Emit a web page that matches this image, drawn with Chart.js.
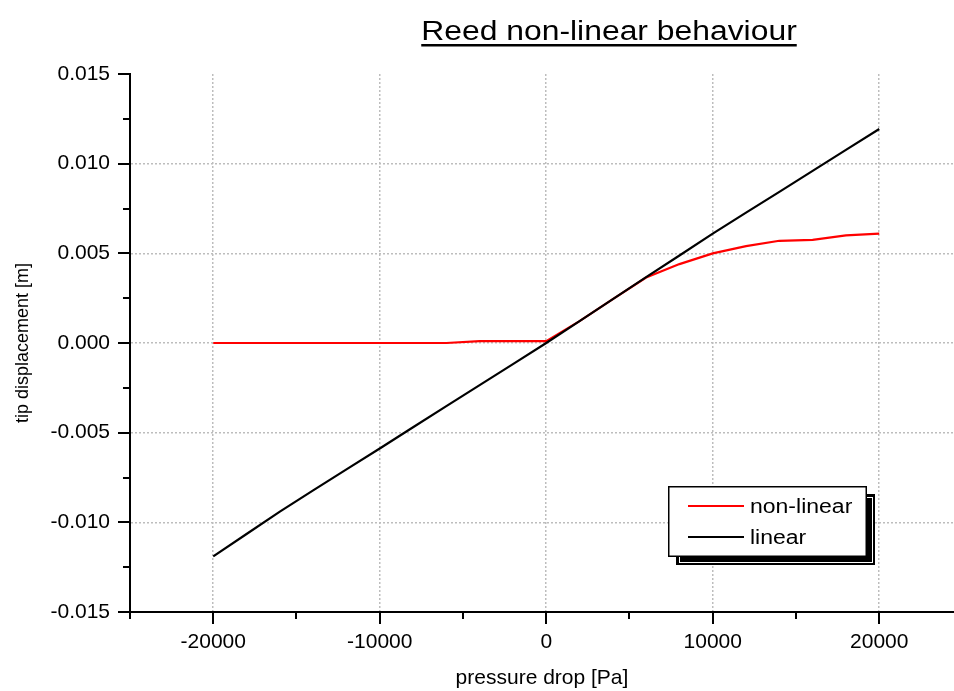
<!DOCTYPE html>
<html lang="en">
<head>
<meta charset="UTF-8">
<title>Reed non-linear behaviour</title>
<script src="https://cdn.jsdelivr.net/npm/chart.js"></script>
<style>
  html, body { margin: 0; padding: 0; background: #fff; }
  #wrap { width: 954px; height: 691px; }
</style>
</head>
<body>
<div id="wrap"><canvas id="reedChart" width="954" height="691"></canvas></div>
<script>
  // pressure drop [Pa]
  const pressure = [-20000, -18000, -16000, -14000, -12000, -10000, -8000, -6000, -4000, -2000,
                    0, 2000, 4000, 6000, 8000, 10000, 12000, 14000, 16000, 18000, 20000];
  // tip displacement [m]
  const nonLinear = [0, 0, 0, 0, 0, 0, 0, 0, 0.0001, 0.0001,
                     0.0001, 0.00122, 0.00245, 0.00365, 0.0044, 0.0050, 0.0054, 0.0057, 0.00575, 0.0060, 0.0061];
  const linear = [-0.0119, -0.01065, -0.0094, -0.00822, -0.00705, -0.00588, -0.0047, -0.00352, -0.00235, -0.00118,
                  0.0000, 0.00122, 0.00245, 0.00367, 0.00488, 0.0061, 0.00727, 0.00843, 0.0096, 0.01077, 0.01193];

  const xTicks = [-25000, -20000, -15000, -10000, -5000, 0, 5000, 10000, 15000, 20000];
  const yTicks = [-0.015, -0.0125, -0.01, -0.0075, -0.005, -0.0025, 0, 0.0025, 0.005, 0.0075, 0.01, 0.0125, 0.015];

  const titleText = 'Reed non-linear behaviour';
  const seriesNames = ['non-linear', 'linear'];
  const seriesColors = ['#ff0000', '#000000'];

  const FONT = '"Liberation Sans", Arial, sans-serif';
  const isMajorX = v => v % 10000 === 0;
  const isMajorY = v => Math.round(v * 10000) % 50 === 0;

  Chart.defaults.font.family = FONT;
  Chart.defaults.color = '#000';

  // tick marks: long on labelled values, short between
  const tickMarks = {
    id: 'tickMarks',
    afterDraw(chart) {
      const { ctx, scales: { x, y } } = chart;
      ctx.save();
      ctx.strokeStyle = '#000';
      ctx.lineWidth = 2;
      x.ticks.forEach(t => {
        const px = Math.round(x.getPixelForValue(t.value));
        const len = isMajorX(t.value) ? 12 : 7;
        ctx.beginPath();
        ctx.moveTo(px, x.top);
        ctx.lineTo(px, x.top + len);
        ctx.stroke();
      });
      y.ticks.forEach(t => {
        const py = Math.round(y.getPixelForValue(t.value));
        const len = isMajorY(t.value) ? 12 : 7;
        ctx.beginPath();
        ctx.moveTo(y.right, py);
        ctx.lineTo(y.right - len, py);
        ctx.stroke();
      });
      ctx.restore();
    }
  };

  // underlined title, slightly wide like the original
  const underlinedTitle = {
    id: 'underlinedTitle',
    afterDraw(chart) {
      const ctx = chart.ctx;
      ctx.save();
      ctx.font = '27px ' + FONT;
      const w = ctx.measureText(titleText).width;
      ctx.translate(609, 40);
      ctx.scale(1.18, 1);
      ctx.fillStyle = '#000';
      ctx.textAlign = 'center';
      ctx.textBaseline = 'alphabetic';
      ctx.fillText(titleText, 0, 0);
      ctx.fillRect(-w / 2, 4, w, 2.5);
      ctx.restore();
    }
  };

  // boxed legend with drop shadow
  const shadowLegend = {
    id: 'shadowLegend',
    afterDraw(chart) {
      const ctx = chart.ctx;
      const bx = 668, by = 486, bw = 199, bh = 71;
      ctx.save();
      ctx.fillStyle = '#000';
      ctx.fillRect(bx + 8, by + 8, bw, bh);
      ctx.strokeStyle = '#fff';
      ctx.lineWidth = 1;
      ctx.strokeRect(bx + 11.5, by + 11.5, bw - 6, bh - 6);
      ctx.fillStyle = '#fff';
      ctx.fillRect(bx, by, bw, bh);
      ctx.strokeStyle = '#000';
      ctx.lineWidth = 1.5;
      ctx.strokeRect(bx + 0.75, by + 0.75, bw - 1.5, bh - 1.5);

      ctx.font = '20px ' + FONT;
      ctx.textBaseline = 'middle';
      ctx.textAlign = 'left';
      seriesNames.forEach((name, i) => {
        const ly = by + 20 + i * 31;
        ctx.strokeStyle = seriesColors[i];
        ctx.lineWidth = 2;
        ctx.beginPath();
        ctx.moveTo(bx + 20, ly);
        ctx.lineTo(bx + 76, ly);
        ctx.stroke();
        ctx.save();
        ctx.translate(bx + 82, ly + 1);
        ctx.scale(1.15, 1);
        ctx.fillStyle = '#000';
        ctx.fillText(name, 0, 0);
        ctx.restore();
      });
      ctx.restore();
    }
  };

  const gridColor = '#bdbdbd';

  new Chart(document.getElementById('reedChart'), {
    type: 'line',
    data: {
      datasets: [
        {
          label: seriesNames[0],
          data: pressure.map((p, i) => ({ x: p, y: nonLinear[i] })),
          borderColor: seriesColors[0],
          borderWidth: 2.2,
          pointRadius: 0,
          tension: 0,
          fill: false,
          order: 1
        },
        {
          label: seriesNames[1],
          data: pressure.map((p, i) => ({ x: p, y: linear[i] })),
          borderColor: seriesColors[1],
          borderWidth: 2.2,
          pointRadius: 0,
          tension: 0,
          fill: false,
          order: 0
        }
      ]
    },
    options: {
      responsive: false,
      animation: false,
      events: [],
      layout: { padding: { top: 74, right: 0, bottom: 0, left: 0 } },
      plugins: {
        legend: { display: false },
        title: { display: false },
        tooltip: { enabled: false }
      },
      scales: {
        x: {
          type: 'linear',
          min: -25000,
          max: 24490,
          afterBuildTicks: s => { s.ticks = xTicks.map(v => ({ value: v })); },
          afterFit: s => { s.height = 79; },
          ticks: {
            autoSkip: false,
            maxRotation: 0,
            padding: 18,
            font: { size: 21 },
            callback: v => isMajorX(v) ? String(v) : ''
          },
          grid: {
            drawTicks: false,
            lineWidth: 1.5,
            color: c => (c.tick && isMajorX(c.tick.value)) ? gridColor : 'rgba(0,0,0,0)'
          },
          border: { display: true, color: '#000', width: 2, dash: [2, 2] },
          title: {
            display: true,
            text: 'pressure drop [Pa]',
            font: { size: 21 },
            padding: { top: 0, bottom: 0 }
          }
        },
        y: {
          type: 'linear',
          min: -0.015,
          max: 0.015,
          afterBuildTicks: s => { s.ticks = yTicks.map(v => ({ value: v })); },
          afterFit: s => { s.width = 130; },
          ticks: {
            autoSkip: false,
            padding: 20,
            font: { size: 21 },
            callback: v => isMajorY(v) ? v.toFixed(3) : ''
          },
          grid: {
            drawTicks: false,
            lineWidth: 1.5,
            color: c => (c.tick && isMajorY(c.tick.value) && Math.abs(c.tick.value) < 0.014) ? gridColor : 'rgba(0,0,0,0)'
          },
          border: { display: true, color: '#000', width: 2, dash: [2, 2] },
          title: {
            display: true,
            text: 'tip displacement [m]',
            font: { size: 18 },
            padding: { top: 12, bottom: 0 }
          }
        }
      }
    },
    plugins: [tickMarks, underlinedTitle, shadowLegend]
  });
</script>
</body>
</html>
